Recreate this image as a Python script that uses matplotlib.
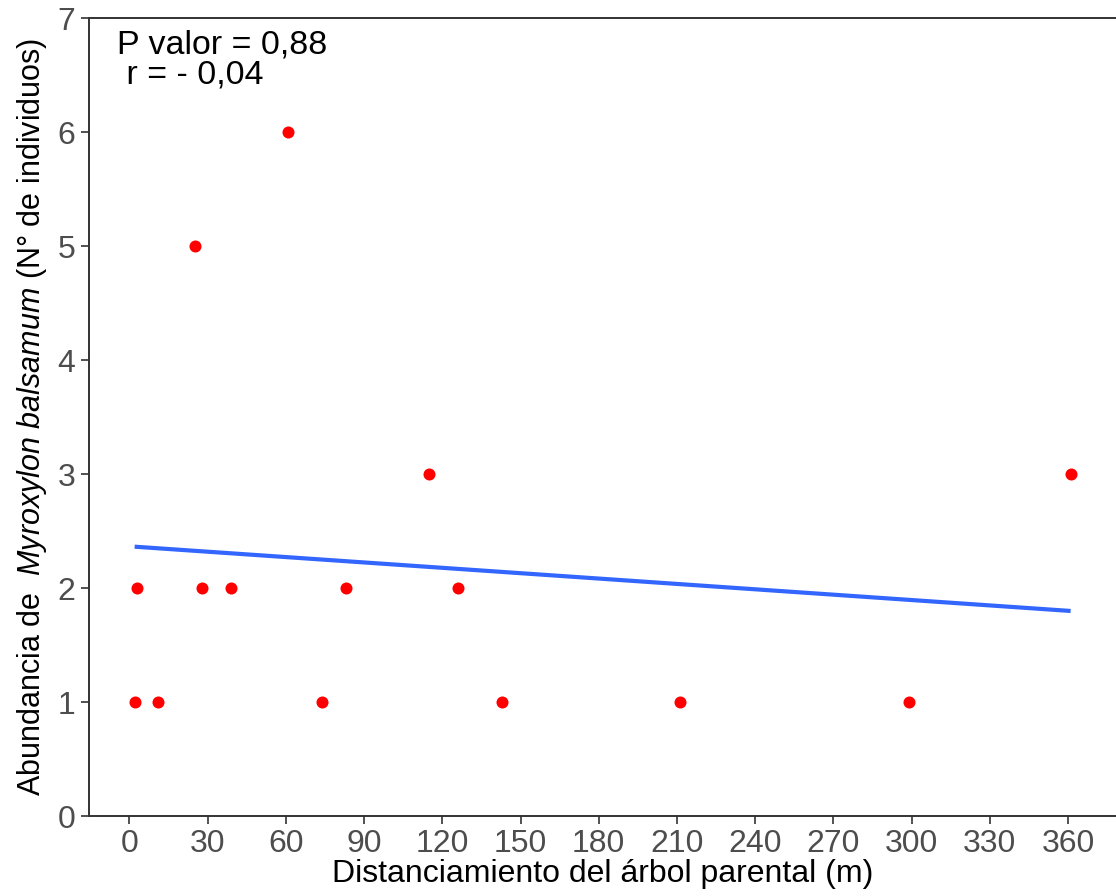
import numpy as np
import matplotlib
matplotlib.use("Agg")
import matplotlib.pyplot as plt

plt.rcParams['font.family'] = ['Liberation Sans', 'DejaVu Sans']
plt.rcParams['mathtext.fontset'] = 'custom'
plt.rcParams['mathtext.rm'] = 'Liberation Sans'
plt.rcParams['mathtext.it'] = 'Liberation Sans:italic'

# distance from parent tree (m) and number of individuals
distancia = [2, 3, 11, 25, 28, 39, 61, 74, 83, 115, 126, 143, 211, 299, 361]
abundancia = [1, 2, 1, 5, 2, 2, 6, 1, 2, 3, 2, 1, 1, 1, 3]
xticks = list(range(0, 361, 30))
yticks = list(range(0, 8))

x = np.array(distancia, dtype=float)
y = np.array(abundancia, dtype=float)
slope, intercept = np.polyfit(x, y, 1)
xs = np.array([x.min(), x.max()])

fig = plt.figure(figsize=(11.16, 8.96), dpi=100)
ax = fig.add_axes([89 / 1116, 80 / 896, 1 - 89 / 1116, (816 - 18) / 896])

ax.scatter(x, y, s=75, color='#FF0000', zorder=3, linewidths=0)
ax.plot(xs, slope * xs + intercept, color='#3366FF', lw=3, zorder=2,
        solid_capstyle='butt')

ax.set_xlim(-15.5, 378.4)
ax.set_ylim(0, 7)
ax.set_xticks(xticks)
ax.set_yticks(yticks)
ax.tick_params(axis='both', colors='#333333', labelcolor='#4D4D4D',
               labelsize=23, length=6, width=1.2)
ax.tick_params(axis='x', pad=3)
ax.tick_params(axis='y', pad=4)
for s in ['left', 'bottom', 'top']:
    ax.spines[s].set_color('#333333')
    ax.spines[s].set_linewidth(1.4)
ax.spines['right'].set_visible(False)

ax.set_xlabel('Distanciamiento del árbol parental (m)', fontsize=23,
              labelpad=0)
ax.set_ylabel(r'Abundancia de  $\mathit{Myroxylon\ balsamum}$ (N° de individuos)',
              fontsize=22, labelpad=6)

ax.text(0.027, 0.985, 'P valor = 0,88\n r = - 0,04', transform=ax.transAxes,
        ha='left', va='top', fontsize=24.5, linespacing=0.95)

fig.savefig('out.png', dpi=100)
